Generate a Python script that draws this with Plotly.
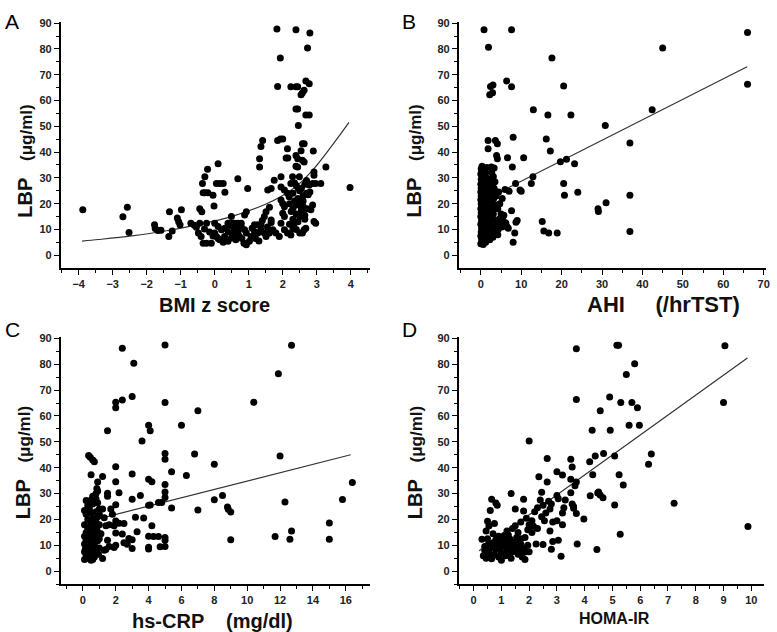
import plotly.graph_objects as go

# ---------------- Panel A: BMI z score vs LBP ----------------
a_x = [-3.88,-2.7,-2.57,-2.52,-1.77,-1.75,-1.67,-1.58,-1.35,-1.33,-1.25,-1.1,-1.06,-1.02,-0.98,-0.7,-0.6,-0.54,-0.48,-0.4,
       -0.44,-0.38,-0.36,-0.34,-0.28,-0.2,-0.29,-0.21,-0.05,-0.02,0.1,0.05,0.15,0.25,0.3,
       -0.34,-0.24,-0.1,-0.44,-0.24,-0.3,-0.15,-0.05,0.0,0.1,0.2,0.0,0.05,0.15,0.29,0.39,0.49,0.39,0.49,0.58,0.49,0.68,0.68,0.78,0.58,
       0.68,0.73,0.78,0.88,0.93,0.88,0.93,0.97,0.86,0.93,1.02,0.3,0.4,0.55,0.62,0.25,0.1,0.45,0.6,0.7,0.8,
       1.07,1.17,1.27,1.36,1.17,1.27,1.36,1.46,1.51,1.32,1.32,1.36,1.41,1.46,1.51,1.61,1.56,1.66,1.61,1.66,1.66,1.71,1.8,1.9,
       1.75,1.85,1.93,2.0,1.85,1.83,1.93,1.95,1.95,1.1,1.2,1.4,1.55,1.3,
       1.95,2.0,2.05,2.0,2.05,1.95,2.05,2.14,2.24,2.1,2.15,2.14,2.05,2.14,2.19,2.24,2.29,2.24,2.39,2.44,2.39,2.39,2.44,2.46,2.39,2.44,2.39,2.44,
       2.3,2.35,2.3,2.4,2.45,2.5,2.4,2.35,2.45,2.5,2.55,2.6,2.4,2.5,2.45,2.55,2.6,2.35,2.3,2.6,2.55,2.49,2.2,2.25,2.2,2.4,2.5,2.3,
       2.54,2.58,2.63,2.58,2.63,2.54,2.58,2.63,2.68,2.78,2.73,2.8,2.68,2.78,2.7,2.75,2.7,2.65,2.72,2.65,2.58,2.63,2.68,2.83,2.88,2.78,2.88,
       2.9,2.92,2.92,2.92,2.97,2.97,3.12,3.27,3.98,2.8,2.65]
a_y = [17.6,14.9,18.6,8.8,11.8,10.4,9.6,9.7,7.3,16.9,9.4,14.4,13.0,11.8,17.6,12.4,11.6,10.9,8.6,7.3,
       18.0,16.9,27.8,24.2,24.2,24.2,30.4,33.3,23.3,19.1,35.5,27.8,27.8,27.8,24.4,
       4.7,4.7,4.7,12.4,12.4,10.2,9.0,7.5,12.4,11.2,9.9,8.6,7.3,6.0,7.3,5.4,6.7,12.4,12.4,12.4,15.0,29.7,12.4,12.4,9.9,
       8.6,7.3,11.2,9.9,8.6,15.6,16.9,25.9,4.7,4.1,5.4,10.5,9.0,8.0,6.0,5.0,6.5,11.5,10.8,10.0,6.5,
       7.3,9.2,8.6,9.9,11.8,11.8,11.8,15.0,16.9,37.4,34.2,42.2,44.5,8.6,7.3,8.6,25.3,25.9,18.6,13.7,12.7,9.9,8.6,7.3,
       29.1,44.5,45.1,45.1,65.4,87.7,76.5,30.4,26.5,10.5,6.5,13.5,11.0,5.5,
       21.4,20.1,18.8,16.3,15.0,12.4,9.9,8.6,7.9,37.7,37.7,41.3,25.3,24.0,22.7,27.8,30.4,65.3,65.3,65.3,87.4,56.7,56.7,50.3,38.7,37.4,34.5,34.2,
       24.0,21.0,18.0,19.5,22.0,25.0,27.0,28.0,26.0,20.0,18.0,21.0,16.0,15.0,13.0,17.0,19.0,12.5,14.0,23.0,26.0,30.4,20.0,17.0,12.0,10.0,8.6,10.2,
       62.2,63.0,64.0,43.2,43.2,40.5,36.8,36.2,67.6,66.5,80.4,86.2,54.4,54.4,24.0,23.5,29.0,27.5,18.0,14.0,8.6,9.9,10.5,17.6,19.5,27.2,27.8,
       40.4,32.3,31.0,13.1,12.4,27.8,27.8,34.2,26.3,24.5,15.5]
a_fit_x = [-3.9,-3.41,-2.44,-1.46,-0.49,0.49,1.46,1.95,2.44,2.92,3.41,3.95]
a_fit_y = [5.5,6.1,7.5,9.4,11.9,15.0,19.6,22.8,27.2,33.6,41.8,51.5]

# ---------------- Panel B: AHI vs LBP ----------------
b_x = [0.8,7.6,1.9,17.6,66,45,66,2.4,3.0,2.2,2.9,6.4,7.6,20.5,13.0,16.6,22.3,42.4,30.8,1.8,1.8,3.6,4.1,3.9,4.1,8.0,16.2,17.2,6.6,10.6,
       19.7,21.2,23.2,36.9,7.8,8.6,9.7,12.9,12.5,20.5,20.7,24.0,29.0,29.1,31.0,36.9,36.9,15.2,15.6,16.8,18.9,9.0,8.7,8.4,8.0,7.6,5.7,6.2,6.5,6.8,
       6.0,7.0,10.0,
       0,0.3,0.6,0.2,0.5,0.8,0,0.4,0.7,0.1,0.5,0.9,0.2,0.6,0,0.4,0.8,0.2,0.6,0,0.4,0.9,0.1,0.5,0,0.3,0.7,0.1,0.5,0,0.4,0.8,0.1,0.5,0,0.3,0.1,0.6,
       0,0.3,0.1,0.4,0,0.2,0.1,0.3,
       1.2,1.5,1.1,1.7,1.3,1.9,1.2,1.6,1.4,1.9,1.1,1.6,1.3,1.8,1.2,1.5,1.1,1.7,1.3,1.4,1.2,1.5,
       2.2,2.6,3.0,2.3,2.9,3.5,2.5,3.2,3.8,2.2,2.8,3.6,2.4,3.1,2.6,3.4,2.2,2.9,3.7,2.5,3.2,2.3,3.0,3.8,2.6,3.3,2.2,2.9,3.5,2.5,3.1,2.7,3.3,2.6,
       4.3,4.8,5.2,4.5,5.0,4.2,4.7,5.3,4.4,4.9,5.5,4.2]
b_y = [87.4,87.4,80.6,76.5,86.4,80.4,66.3,65.4,66.0,62.2,63.0,67.6,65.3,65.6,56.4,54.4,54.4,56.4,50.3,44.5,41.3,44.5,43.2,38.7,37.4,45.8,45.1,40.4,37.8,37.8,
       36.3,37.2,35.5,43.5,34.2,27.8,25.3,30.4,27.8,27.8,23.3,24.4,18.0,17.0,20.4,23.3,9.2,13.1,9.4,8.6,8.6,13.5,12.8,8.6,5.0,17.3,15.5,12.5,11.0,10.5,
       25.5,24.8,24.8,
       4.5,5.0,4.2,6.0,6.5,5.5,7.5,8.0,7.2,9.0,9.5,8.8,10.5,11.0,12.0,12.5,11.8,13.5,14.0,15.0,15.5,14.8,16.5,17.0,18.0,18.5,19.0,20.0,20.5,21.5,22.0,21.5,23.0,23.5,24.5,25.0,26.0,26.5,
       27.5,28.5,29.5,30.5,31.5,32.5,33.5,34.5,
       5.0,6.5,8.0,9.0,10.5,11.0,12.5,13.5,15.0,16.0,17.5,18.5,20.0,21.0,22.5,24.0,25.5,26.5,28.0,30.0,32.0,34.0,
       6.0,8.0,7.0,9.5,10.0,9.0,11.5,12.0,11.0,13.5,14.0,13.5,15.5,16.0,17.5,18.0,19.0,20.0,19.5,21.5,22.0,23.5,24.0,23.0,25.5,26.0,27.0,28.0,28.5,29.5,30.5,32.0,33.8,34.2,
       10.0,12.0,11.0,14.0,16.0,18.0,20.0,22.0,24.5,13.0,13.5,8.0]
b_fit_x = [0.0, 65.9]
b_fit_y = [20.8, 73.1]

# ---------------- Panel C: hs-CRP vs LBP ----------------
c_x = [2.4,3.1,5.0,12.7,11.9,10.4,5.0,7.0,6.0,4.0,4.1,1.5,3.6,2.4,3.0,2.0,2.0,
       6.8,5.0,5.0,12.0,8.0,2.0,0.35,0.45,0.6,0.7,
       0.5,1.2,3.0,6.3,5.4,4.0,4.2,2.0,0.9,0.85,0.8,5.0,5.0,5.0,16.4,3.5,2.2,1.5,1.5,8.5,3.0,8.0,15.8,4.6,4.8,4.0,4.1,2.0,12.3,5.4,8.8,9.0,7.0,8.85,
       3.2,3.7,4.2,2.0,2.2,2.5,1.9,1.6,1.4,1.7,1.8,1.3,1.2,1.0,
       15.0,12.7,11.7,12.6,15.0,9.0,5.0,5.0,5.0,4.7,4.0,4.3,4.6,4.0,4.0,3.3,3.0,3.0,2.8,2.7,2.5,2.4,2.0,2.0,1.9,1.6,1.5,1.3,1.2,1.1,1.4,
       0.1,0.3,0.5,0.2,0.4,0.7,0.1,0.3,0.6,0.2,0.5,0.8,0.1,0.4,0.7,0.2,0.5,0.9,0.1,0.4,0.7,0.2,0.6,0.9,0.3,0.7,0.1,0.5,0.8,0.3,0.6,0.9,0.2,0.5,0.8,
       0.1,0.4,0.3,0.6,0.9,0.2,0.5,0.8,0.6,0.9,0.15,0.35,0.25,0.45,0.55,0.65,0.75,0.85,1.0,1.0,1.0,1.0,0.95,0.6]
c_y = [86.2,80.4,87.4,87.3,76.3,65.3,65.2,62.0,56.4,56.4,54.3,54.3,50.3,66.2,67.5,65.3,63.2,
       45.3,45.5,43.3,44.5,41.3,40.4,44.7,44.0,43.0,42.3,
       37.3,36.6,37.6,37.0,38.4,35.5,34.6,34.6,34.5,32.0,30.0,33.5,30.6,28.5,34.3,29.3,30.3,30.1,29.0,29.3,27.8,27.6,27.7,26.6,26.6,25.5,25.6,25.7,26.7,24.4,24.8,22.9,23.7,23.9,
       20.9,20.6,17.6,19.4,18.5,18.4,17.6,18.0,17.6,24.0,22.0,20.7,24.0,22.0,
       18.6,15.5,13.4,12.3,12.3,12.2,13.0,12.0,9.5,9.4,13.5,13.4,13.4,9.3,8.6,15.2,12.2,8.8,12.6,10.4,11.0,14.4,14.8,10.0,9.2,9.5,12.0,8.1,4.9,14.5,8.4,
       4.5,5.0,4.2,6.0,6.5,5.5,7.5,8.0,7.2,9.0,9.5,8.8,10.5,11.0,10.2,12.0,12.5,11.8,13.5,14.0,13.2,15.0,15.5,15.0,16.5,17.0,18.0,18.5,19.0,20.0,20.5,21.0,22.0,22.5,23.0,
       23.5,24.0,25.5,26.0,26.5,27.3,27.5,28.0,29.0,31.0,8.5,9.8,11.3,13.3,10.7,12.7,14.8,16.2,12.5,9.0,18.0,24.0,6.5,4.5]
c_fit_x = [0.05, 16.3]
c_fit_y = [18.8, 45.0]

# ---------------- Panel D: HOMA-IR vs LBP ----------------
d_x = [3.7,5.16,5.22,9.05,5.8,5.5,3.7,4.9,4.56,5.3,5.7,9.0,5.9,4.27,4.92,5.6,5.97,6.4,6.3,7.22,9.88,4.47,
       0.3,0.45,0.5,0.6,0.65,0.8,0.75,0.85,0.55,1.35,1.5,1.8,1.8,1.5,1.4,1.6,1.25,1.7,1.9,2.0,2.1,2.2,2.3,2.35,2.45,2.4,2.5,2.45,2.55,2.6,
       2.65,2.65,2.7,2.75,2.8,2.85,2.75,2.85,2.8,3.0,3.0,3.05,3.0,3.05,3.15,3.2,3.25,3.2,3.2,3.3,3.5,3.55,3.5,3.5,3.55,3.6,3.65,3.7,3.7,3.6,
       3.73,3.97,4.2,4.18,4.29,4.38,4.5,4.56,4.66,4.44,5.28,5.08,5.39,5.24,5.08,4.68,2.3,2.25,2.0,2.1,2.15,1.95,1.85,2.5,
       0.35,0.4,0.45,0.5,0.55,0.6,0.65,0.7,0.75,0.8,0.85,0.9,0.95,1.0,1.0,1.05,1.1,1.15,1.2,1.25,1.3,1.35,1.4,1.45,1.5,1.55,1.6,1.65,1.7,1.75,
       1.8,1.85,1.9,1.95,0.5,0.9,1.2,0.7,1.1,0.4,0.6,1.3,1.5,1.7,1.0,0.8,1.35,0.55,1.15,1.6,2.0,1.75,1.25,0.95,0.65]
d_y = [86.0,87.3,87.3,87.2,80.2,76.0,66.4,67.3,62.0,65.2,65.2,65.2,63.2,54.5,54.5,56.4,56.4,45.3,41.3,26.3,17.3,30.2,
       12.3,15.5,19.3,23.5,27.8,26.4,18.4,25.5,17.5,30.0,24.0,27.8,23.3,17.6,16.5,15.0,14.0,19.0,20.5,18.0,19.5,23.0,24.5,36.5,30.5,27.5,25.5,21.0,19.5,22.5,
       34.5,43.6,27.0,24.0,26.0,19.0,15.5,11.5,8.5,38.4,29.3,28.0,19.5,12.0,5.8,37.2,24.5,22.5,18.0,27.5,43.3,40.3,35.5,30.3,26.0,25.0,33.0,34.5,22.3,24.3,
       10.5,20.2,29.2,42.3,37.3,44.5,30.6,29.5,28.4,8.4,14.3,25.6,33.3,37.3,44.5,45.5,16.5,10.5,50.3,15.0,17.5,16.0,13.0,10.3,
       6.0,8.0,5.0,10.0,7.0,9.0,4.8,11.0,6.5,8.5,10.5,5.5,12.0,7.0,4.2,9.5,11.5,6.0,8.0,10.5,12.5,5.0,7.5,9.5,11.5,13.0,6.5,8.5,10.5,7.0,
       9.0,4.5,7.5,10.0,12.5,13.5,15.5,14.5,13.8,9.5,6.0,9.0,8.0,12.5,10.5,12.2,11.0,8.8,12.8,10.2,7.5,5.5,6.8,9.0,10.5]
d_fit_x = [0.2, 9.86]
d_fit_y = [7.9, 82.4]

# full-window figure; the page's default body margin is removed after drawing
W, H = 777, 632

def px(X):
    return X / W

def py(Y):
    return 1 - Y / H

x_ranges = {"A": [-4.53, 4.57], "B": [-5.49, 70.58], "C": [-1.35, 17.48], "D": [-0.54, 10.46]}
x_dticks = {"A": (1, 0.5), "B": (10, 5), "C": (2, 1), "D": (1, 0.5)}

fig = go.Figure()
panels = [("A", a_x, a_y, a_fit_x, a_fit_y, "x", "y", "spline"),
          ("B", b_x, b_y, b_fit_x, b_fit_y, "x2", "y2", "linear"),
          ("C", c_x, c_y, c_fit_x, c_fit_y, "x3", "y3", "linear"),
          ("D", d_x, d_y, d_fit_x, d_fit_y, "x4", "y4", "linear")]
for name, xs, ys, fx, fy, xa, ya, shape in panels:
    fig.add_trace(go.Scatter(x=fx, y=fy, mode="lines", xaxis=xa, yaxis=ya,
                             line=dict(color="#333333", width=1.2, shape=shape), showlegend=False))
    fig.add_trace(go.Scatter(x=xs, y=ys, mode="markers", xaxis=xa, yaxis=ya,
                             marker=dict(color="black", size=7, line=dict(width=0)), showlegend=False))

tickfont = dict(family="Liberation Sans, Arial", size=11, color="#222222", weight="bold")

def xaxis(rng, dt, mdt, domain, anchor):
    return dict(domain=domain, anchor=anchor, range=rng, dtick=dt, tick0=0,
                showline=True, linecolor="black", linewidth=1.5, showgrid=False, zeroline=False,
                ticks="outside", ticklen=5, tickwidth=1.3, tickcolor="black", tickfont=tickfont,
                minor=dict(ticks="outside", ticklen=3, tickwidth=1.1, tickcolor="black", dtick=mdt, showgrid=False))

def yaxis(rng, domain, anchor):
    return dict(domain=domain, anchor=anchor, range=rng, dtick=10, tick0=0,
                showline=True, linecolor="black", linewidth=1.5, showgrid=False, zeroline=False,
                ticks="outside", ticklen=5, tickwidth=1.3, tickcolor="black", tickfont=tickfont,
                minor=dict(ticks="outside", ticklen=3, tickwidth=1.1, tickcolor="black", dtick=5, showgrid=False))

xl = [px(61), px(372)]
xr = [px(461), px(770)]
xr_d = [px(461), px(768)]
yt = [py(265), py(16.7)]
yb = [py(584), py(335)]

fig.update_layout(
    width=W, height=H, margin=dict(l=0, r=0, t=0, b=0),
    plot_bgcolor="white", paper_bgcolor="white",
    xaxis=xaxis(x_ranges["A"], *x_dticks["A"], xl, "y"),
    yaxis=yaxis([-4.9, 90.6], yt, "x"),
    xaxis2=xaxis(x_ranges["B"], *x_dticks["B"], xr, "y2"),
    yaxis2=yaxis([-4.9, 90.6], yt, "x2"),
    xaxis3=xaxis(x_ranges["C"], *x_dticks["C"], xl, "y3"),
    yaxis3=yaxis([-5.1, 90.4], yb, "x3"),
    xaxis4=xaxis(x_ranges["D"], *x_dticks["D"], xr_d, "y4"),
    yaxis4=yaxis([-5.1, 90.4], yb, "x4"),
)

title_font = dict(family="Liberation Sans, Arial", color="#111111", size=20)
letter_font = dict(family="Liberation Sans, Arial", size=21, color="black")
ytitle = "<b>LBP</b>   <b><span style='font-size:17px'>(μg/ml)</span></b>"
annots = [
    dict(x=px(3), y=py(3), text="A", font=letter_font),
    dict(x=px(402), y=py(3), text="B", font=letter_font),
    dict(x=px(3), y=py(313), text="C", font=letter_font),
    dict(x=px(402), y=py(313), text="D", font=letter_font),
]
for a in annots:
    a.update(xref="paper", yref="paper", xanchor="left", yanchor="top", showarrow=False)
titles = [
    dict(x=px(25), y=py(157), text=ytitle, textangle=-90, font=title_font),
    dict(x=px(416), y=py(157), text=ytitle, textangle=-90, font=title_font),
    dict(x=px(23), y=py(461), text=ytitle, textangle=-90, font=title_font),
    dict(x=px(417), y=py(461), text=ytitle, textangle=-90, font=title_font),
    dict(x=px(216), y=py(302), text="<b>BMI z score</b>", font=title_font),
    dict(x=px(667), y=py(302), text="<b>AHI     (/hrTST)</b>", font=dict(title_font, size=22)),
    dict(x=px(214), y=py(621), text="<b>hs-CRP    (mg/dl)</b>", font=title_font),
    dict(x=px(618), y=py(618), text="<b>HOMA-IR</b>", font=dict(title_font, size=16)),
]
for t in titles:
    t.update(xref="paper", yref="paper", xanchor="center", yanchor="middle", showarrow=False)
fig.update_layout(annotations=annots + titles)

fig.write_html("out.html", config={"displayModeBar": False},
               post_script="document.body.style.margin='0';document.body.style.overflow='hidden';")
